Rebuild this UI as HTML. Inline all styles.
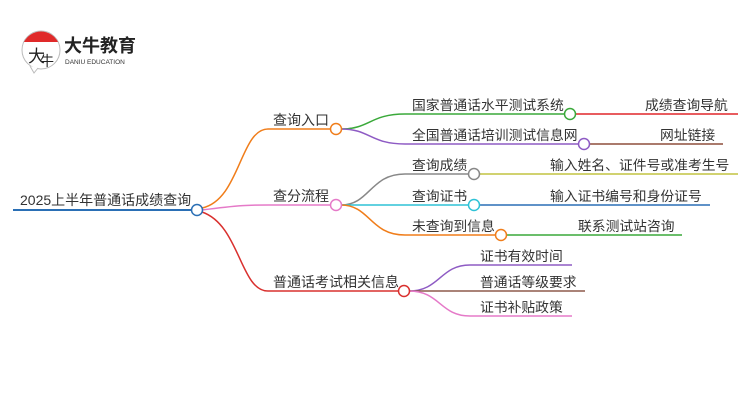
<!DOCTYPE html>
<html><head><meta charset="utf-8"><style>
html,body{margin:0;padding:0;background:#fff;width:750px;height:410px;overflow:hidden}
text{font-family:"Liberation Sans","Noto Sans CJK SC",sans-serif;fill:#333}
</style></head><body>
<svg width="750" height="410" viewBox="0 0 750 410" xmlns="http://www.w3.org/2000/svg">
<!-- logo -->
<circle cx="41" cy="50" r="19" fill="#fff" stroke="#bbb" stroke-width="1"/>
<path d="M24,42 A19,19 0 0 1 58,42 Z" fill="#e02a2a"/>
<path d="M30,66 L34,73 L38,68" fill="#fff" stroke="#bbb" stroke-width="1"/>
<text x="28" y="62" font-size="17" style="fill:#222">大</text>
<text x="40" y="66" font-size="14" style="fill:#222">牛</text>
<text x="64" y="52" font-size="18" font-weight="bold" style="fill:#222">大牛教育</text>
<text x="65" y="64" font-size="6.5" style="fill:#333">DANIU EDUCATION</text>

<g fill="none" stroke-width="1.5">
<line x1="13" y1="210" x2="192" y2="210" stroke="#2a6fb5" stroke-width="2"/>
<path d="M202,208 C240,200 240,129 268,129 L331,129" stroke="#f07d1a"/>
<path d="M202,210 C240,205 250,205 268,205 L331,205" stroke="#e57ac8"/>
<path d="M202,212 C240,225 240,291 268,291 L399,291" stroke="#d9302e"/>
<path d="M341,129 C370,129 370,114 405,114 L565,114" stroke="#3aa93a"/>
<path d="M341,129 C370,129 370,144 405,144 L579,144" stroke="#8e5bc4"/>
<line x1="575" y1="114" x2="738" y2="114" stroke="#e0262a"/>
<line x1="589" y1="144" x2="723" y2="144" stroke="#8d4f3c"/>
<path d="M341,205 C370,205 370,174 405,174 L469,174" stroke="#888"/>
<path d="M341,205 L469,205" stroke="#2ec2d6"/>
<path d="M341,205 C370,205 370,235 405,235 L496,235" stroke="#f07d1a"/>
<line x1="479" y1="174" x2="738" y2="174" stroke="#c2c440"/>
<line x1="479" y1="205" x2="710" y2="205" stroke="#2a6fb5"/>
<line x1="506" y1="235" x2="682" y2="235" stroke="#3aa93a"/>
<path d="M409,291 C440,291 440,265 470,265 L572,265" stroke="#8e5bc4"/>
<path d="M409,291 L585,291" stroke="#8d5a4c"/>
<path d="M409,291 C440,291 440,316 470,316 L572,316" stroke="#e57ac8"/>
</g>
<g fill="#fff" stroke-width="1.5">
<circle cx="197" cy="210" r="5.5" stroke="#2a6fb5"/>
<circle cx="336" cy="129" r="5.5" stroke="#f07d1a"/>
<circle cx="336" cy="205" r="5.5" stroke="#e57ac8"/>
<circle cx="404" cy="291" r="5.5" stroke="#d9302e"/>
<circle cx="570" cy="114" r="5.5" stroke="#3aa93a"/>
<circle cx="584" cy="144" r="5.5" stroke="#8e5bc4"/>
<circle cx="474" cy="174" r="5.5" stroke="#888"/>
<circle cx="474" cy="205" r="5.5" stroke="#2ec2d6"/>
<circle cx="501" cy="235" r="5.5" stroke="#f07d1a"/>
</g>
<g font-size="13.8">
<text x="20" y="205" font-size="14">2025上半年普通话成绩查询</text>
<text x="273" y="125" font-size="14">查询入口</text>
<text x="273" y="201" font-size="14">查分流程</text>
<text x="273" y="287" font-size="14">普通话考试相关信息</text>
<text x="412" y="110">国家普通话水平测试系统</text>
<text x="412" y="140">全国普通话培训测试信息网</text>
<text x="412" y="170">查询成绩</text>
<text x="412" y="201">查询证书</text>
<text x="412" y="231">未查询到信息</text>
<text x="645" y="110">成绩查询导航</text>
<text x="660" y="140">网址链接</text>
<text x="550" y="170">输入姓名、证件号或准考生号</text>
<text x="550" y="201">输入证书编号和身份证号</text>
<text x="578" y="231">联系测试站咨询</text>
<text x="480" y="261">证书有效时间</text>
<text x="480" y="287">普通话等级要求</text>
<text x="480" y="312">证书补贴政策</text>
</g>
</svg>
</body></html>
